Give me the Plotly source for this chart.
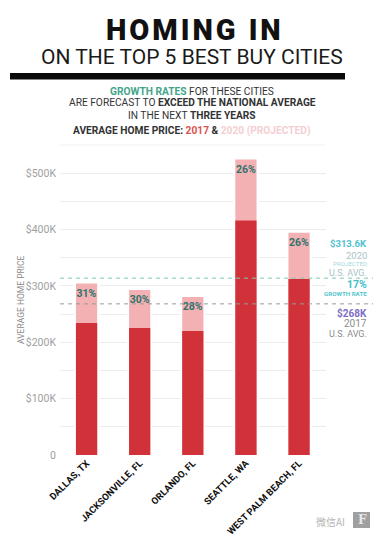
import plotly.graph_objects as go

W, H = 384, 537
cities = ["DALLAS, TX", "JACKSONVILLE, FL", "ORLANDO, FL", "SEATTLE, WA", "WEST PALM BEACH, FL"]
price_2017 = [234, 225, 220, 416, 312]
price_2020 = [304, 292.5, 280, 524, 394]
growth = ["31%", "30%", "28%", "26%", "26%"]
grid_vals = [0, 50, 100, 150, 200, 250, 300, 350, 400, 450, 500]
grid_text = ["0", "", "$100K", "", "$200K", "", "$300K", "", "$400K", "", "$500K"]
avg_2020 = 313.6
avg_2017 = 268

ROBOTO = "Roboto, sans-serif"

def px(x):
    return x / W

def py(y):
    return 1 - y / H

fig = go.Figure()
fig.add_bar(x=cities, y=price_2020, width=0.48, marker=dict(color="white", line=dict(width=0)), hoverinfo="skip")
fig.add_bar(x=cities, y=price_2020, width=0.4, marker=dict(color="#f4b1b4", line=dict(width=0)),
            text=growth, textposition="inside", insidetextanchor="end", textangle=0,
            constraintext="none", cliponaxis=False,
            textfont=dict(family=ROBOTO, size=10.5, color="#2f716c", weight=700))
fig.add_bar(x=cities, y=price_2017, width=0.4, marker=dict(color="#d13239", line=dict(width=0)))

annots = []
def note(x, y, text, size, color, family=ROBOTO, anchor="center", angle=0, weight=None):
    font = dict(family=family, size=size, color=color)
    if weight:
        font["weight"] = weight
    annots.append(dict(xref="paper", yref="paper", x=px(x), y=py(y), text=text, showarrow=False,
                       xanchor=anchor, yanchor="middle", textangle=angle, font=font))

note(193, 30, "H\u200aO\u200aM\u200aI\u200aN\u200aG\u2009 I\u200aN", 29, "#111111", ROBOTO, weight=900)
note(192, 57, "ON THE TOP 5 BEST BUY CITIES", 21, "#1a1a1a", ROBOTO)
note(192, 91, '<b><span style="color:#43a58c">GROWTH RATES</span></b> FOR THESE CITIES', 10.2, "#333333")
note(192, 103, "ARE FORECAST TO <b>EXCEED THE NATIONAL AVERAGE</b>", 10.2, "#333333")
note(192, 115, "IN THE NEXT <b>THREE YEARS</b>", 10.2, "#333333")
note(192, 131, '<b>AVERAGE HOME PRICE: <span style="color:#d9544f">2017</span> &amp; '
               '<span style="color:#f3cfd2">2020 (PROJECTED)</span></b>', 10.2, "#333333")
note(21, 300, "AVERAGE HOME PRICE", 8.5, "#8a8a8a", angle=-90)
note(369, 243.5, "<b>$313.6K</b>", 9.5, "#4fc1cf", ROBOTO, "right")
note(369, 255, "2020", 9.5, "#a9c3c8", ROBOTO, "right")
note(369, 263.5, "PROJECTED", 6.2, "#a5dade", ROBOTO, "right")
note(369, 272.5, "U.S. AVG.", 9, "#a9c3c8", ROBOTO, "right")
note(369, 284, "<b>17%</b>", 10.5, "#45c0c8", ROBOTO, "right")
note(369, 294, "<b>GROWTH RATE</b>", 6.2, "#55c6cc", ROBOTO, "right")
note(369, 313, "<b>$268K</b>", 10, "#7d6fc4", ROBOTO, "right")
note(369, 323, "2017", 10, "#8c8c8c", ROBOTO, "right")
note(369, 333.5, "U.S. AVG.", 9, "#8c8c8c", ROBOTO, "right")
note(330, 521, "微信AI", 10, "#b5b5b5", "Noto Sans CJK SC")
note(362, 520, "<b>F</b>", 12, "#e8e8e8", "DejaVu Serif")

shapes = [
    dict(type="rect", xref="paper", yref="paper", x0=px(10), x1=px(345), y0=py(73), y1=py(79.5),
         fillcolor="#0a0a0a", line=dict(width=0), layer="above"),
    dict(type="line", xref="paper", yref="paper", x0=px(60), x1=px(325), y0=py(145), y1=py(145),
         line=dict(color="#f0f0f0", width=1)),
    dict(type="line", xref="paper", yref="y", x0=px(60), x1=px(373), y0=avg_2020, y1=avg_2020,
         line=dict(color="#7fc9ae", width=1, dash="4px,4px"), layer="above"),
    dict(type="line", xref="paper", yref="y", x0=px(60), x1=px(373), y0=avg_2017, y1=avg_2017,
         line=dict(color="#9a9a9a", width=1, dash="4px,4px"), layer="above"),
    dict(type="rect", xref="paper", yref="paper", x0=px(353), x1=px(370), y0=py(512), y1=py(528),
         fillcolor="#a0a0a0", line=dict(width=0), layer="below"),
]

fig.update_layout(
    width=W, height=H, autosize=False, margin=dict(l=0, r=0, t=0, b=0, autoexpand=False),
    paper_bgcolor="white", plot_bgcolor="white", showlegend=False, barmode="overlay",
    annotations=annots, shapes=shapes,
    xaxis=dict(domain=[px(60), px(325.6)], range=[-0.5, 4.5], type="category", tickangle=-45,
               automargin=False, showgrid=False, zeroline=False, showline=False, ticks="", ticklen=0,
               tickfont=dict(family=ROBOTO, size=9.5, color="#111111", weight=700)),
    yaxis=dict(domain=[py(455), py(156)], range=[0, 530.2], tickvals=grid_vals, ticktext=grid_text,
               automargin=False, showgrid=True, gridcolor="#ececec", gridwidth=1, zeroline=False,
               showline=False, ticks="", ticklabelstandoff=3,
               tickfont=dict(family=ROBOTO, size=10.5, color="#a0a0a0")),
)
fig.write_html("out.html", post_script="document.body.style.margin='0';",
               config=dict(displayModeBar=False))
